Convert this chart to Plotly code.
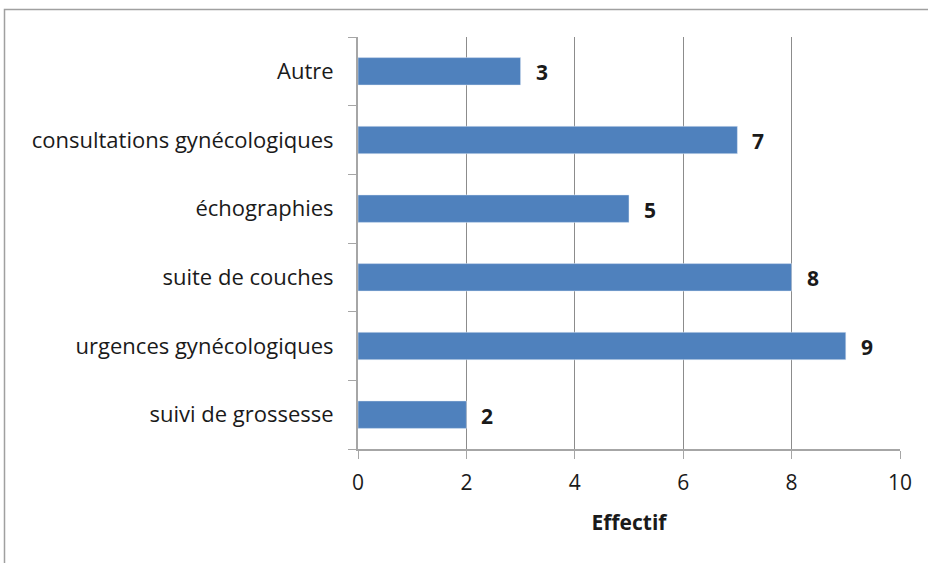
import plotly.graph_objects as go

# categories bottom -> top, as drawn
categories = [
    "suivi de grossesse",
    "urgences gynécologiques",
    "suite de couches",
    "échographies",
    "consultations gynécologiques",
    "Autre",
]
effectif = [2, 9, 8, 5, 7, 3]
x_ticks = [0, 2, 4, 6, 8, 10]

FONT = "Open Sans"
BAR_COLOR = "#4F81BD"
GRID = "#8c8c8c"
AXIS = "#a6a6a6"
TXT = "#1a1a1a"

fig = go.Figure()
fig.add_trace(
    go.Bar(
        y=categories,
        x=effectif,
        orientation="h",
        marker=dict(color=BAR_COLOR),
        width=0.4,
        hoverinfo="skip",
        showlegend=False,
    )
)

# bold value labels to the right of each bar
for cat, val in zip(categories, effectif):
    fig.add_annotation(
        x=val, y=cat, text=f"<b>{val}</b>", showarrow=False,
        xanchor="left", xshift=13, yshift=-1,
        font=dict(family=FONT, size=21, color=TXT),
    )

# outer frame (cropped at right/bottom in the reference)
fig.add_shape(
    type="rect", xref="paper", yref="paper",
    x0=(4.5 - 358) / 542, x1=1.2, y0=-0.5, y1=1 + (37 - 9.5) / 412,
    line=dict(color="#a0a0a0", width=1.5), layer="below",
)

fig.update_layout(
    width=928, height=563,
    margin=dict(l=358, r=28, t=37, b=114),
    paper_bgcolor="white", plot_bgcolor="white",
    font=dict(family=FONT, size=21, color=TXT),
    xaxis=dict(
        range=[0, 10], tickvals=x_ticks, ticks="outside", ticklen=8,
        tickcolor=AXIS, showgrid=True, gridcolor=GRID, gridwidth=1,
        showline=True, linecolor=AXIS, linewidth=2, zeroline=False,
        tickfont=dict(family=FONT, size=21, color=TXT), ticklabelstandoff=6,
        title=dict(text="<b>Effectif</b>", font=dict(family=FONT, size=21, color=TXT), standoff=20),
    ),
    yaxis=dict(
        type="category", categoryorder="array", categoryarray=categories,
        range=[-0.5, 5.5],
        ticks="outside", ticklen=8, tickcolor=AXIS, tickson="boundaries",
        showline=True, linecolor=AXIS, linewidth=2, showgrid=False,
        ticklabelstandoff=18,
        tickfont=dict(family=FONT, size=22, color=TXT),
    ),
)

fig.write_html(
    "out.html",
    config={"displayModeBar": False},
    post_script="document.body.style.margin='0';",
)
